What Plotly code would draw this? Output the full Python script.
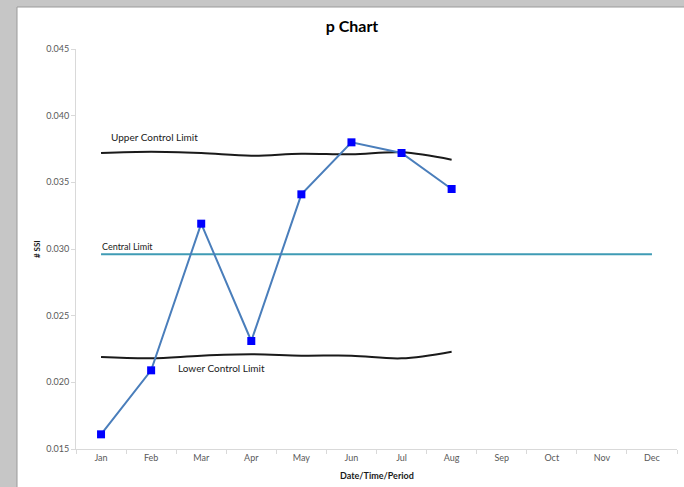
import plotly.graph_objects as go

months = ["Jan", "Feb", "Mar", "Apr", "May", "Jun", "Jul", "Aug", "Sep", "Oct", "Nov", "Dec"]
observed_months = ["Jan", "Feb", "Mar", "Apr", "May", "Jun", "Jul", "Aug"]
p_values = [0.0161, 0.0209, 0.0319, 0.0231, 0.0341, 0.0380, 0.0372, 0.0345]
ucl_values = [0.0372, 0.0373, 0.0372, 0.0370, 0.03715, 0.0371, 0.03725, 0.0367]
lcl_values = [0.0219, 0.0218, 0.0220, 0.0221, 0.0220, 0.0220, 0.0218, 0.0223]
central_value = 0.0296
y_ticks = [0.015, 0.020, 0.025, 0.030, 0.035, 0.040, 0.045]

FONT = "Lato, 'Open Sans', sans-serif"
W, H = 684, 487
L, R, T, B = 76, 7, 49, 38
pw, ph = W - L - R, H - T - B

def px_x(x):
    return (x - L) / pw

def px_y(y):
    return (H - B - y) / ph

fig = go.Figure()

fig.add_trace(go.Scatter(x=observed_months, y=ucl_values, mode="lines",
                         line=dict(color="#1a1a1a", width=2), line_shape="spline",
                         hoverinfo="skip", showlegend=False))
fig.add_trace(go.Scatter(x=observed_months, y=lcl_values, mode="lines",
                         line=dict(color="#1a1a1a", width=2), line_shape="spline",
                         hoverinfo="skip", showlegend=False))
fig.add_trace(go.Scatter(x=months, y=[central_value] * len(months), mode="lines",
                         line=dict(color="#3f9bb5", width=2),
                         hoverinfo="skip", showlegend=False))
fig.add_trace(go.Scatter(x=observed_months, y=p_values, mode="lines+markers",
                         line=dict(color="#4a7ebb", width=2),
                         marker=dict(symbol="square", size=8, color="#0000ff",
                                     line=dict(width=0)),
                         showlegend=False))

fig.update_layout(
    width=W, height=H,
    margin=dict(l=L, r=R, t=T, b=B, pad=0),
    paper_bgcolor="#c6c6c6",
    plot_bgcolor="white",
    font=dict(family=FONT, color="#595959", size=9),
    title=dict(text="<b>p Chart</b>", x=352 / W, xref="paper" if False else "container",
               y=1 - 26 / H, yref="container", xanchor="center", yanchor="middle",
               font=dict(size=16, color="#000000", family=FONT)),
    xaxis=dict(type="category", categoryorder="array", categoryarray=months,
               range=[-0.5, 11.5], showgrid=False, zeroline=False,
               showline=True, linecolor="#d9d9d9", linewidth=1,
               ticks="outside", ticklen=4, tickcolor="#d9d9d9", tickson="boundaries",
               tickfont=dict(size=9, color="#595959"), fixedrange=True),
    yaxis=dict(range=[0.015, 0.045], tickvals=y_ticks, tickformat=".3f",
               showgrid=False, zeroline=False, showline=True, linecolor="#d9d9d9",
               linewidth=1, ticks="outside", ticklen=4, tickcolor="#d9d9d9",
               tickfont=dict(size=9, color="#595959"), fixedrange=True),
    shapes=[dict(type="rect", xref="paper", yref="paper", layer="below",
                 x0=px_x(17), x1=px_x(W + 2), y0=px_y(H + 2), y1=px_y(7),
                 fillcolor="white", line=dict(color="#9a9a9a", width=1))],
    annotations=[
        dict(text="Upper Control Limit", x=0.16, y=0.0384, xref="x", yref="y",
             xanchor="left", yanchor="middle", showarrow=False,
             font=dict(size=10, color="#1a1a1a")),
        dict(text="Central Limit", x=-0.02, y=0.0302, xref="x", yref="y",
             xanchor="left", yanchor="middle", showarrow=False,
             font=dict(size=9, color="#1a1a1a")),
        dict(text="Lower Control Limit", x=1.5, y=0.02107, xref="x", yref="y",
             xanchor="left", yanchor="middle", showarrow=False,
             font=dict(size=10, color="#1a1a1a")),
        dict(text="<b>Date/Time/Period</b>", x=0.5, y=px_y(476), xref="paper", yref="paper",
             xanchor="center", yanchor="middle", showarrow=False,
             font=dict(size=9, color="#1a1a1a")),
        dict(text="<b># SSI</b>", x=px_x(37), y=px_y(249), xref="paper", yref="paper",
             xanchor="center", yanchor="middle", showarrow=False, textangle=-90,
             font=dict(size=8, color="#1a1a1a")),
    ],
)

fig.write_html("out.html")
